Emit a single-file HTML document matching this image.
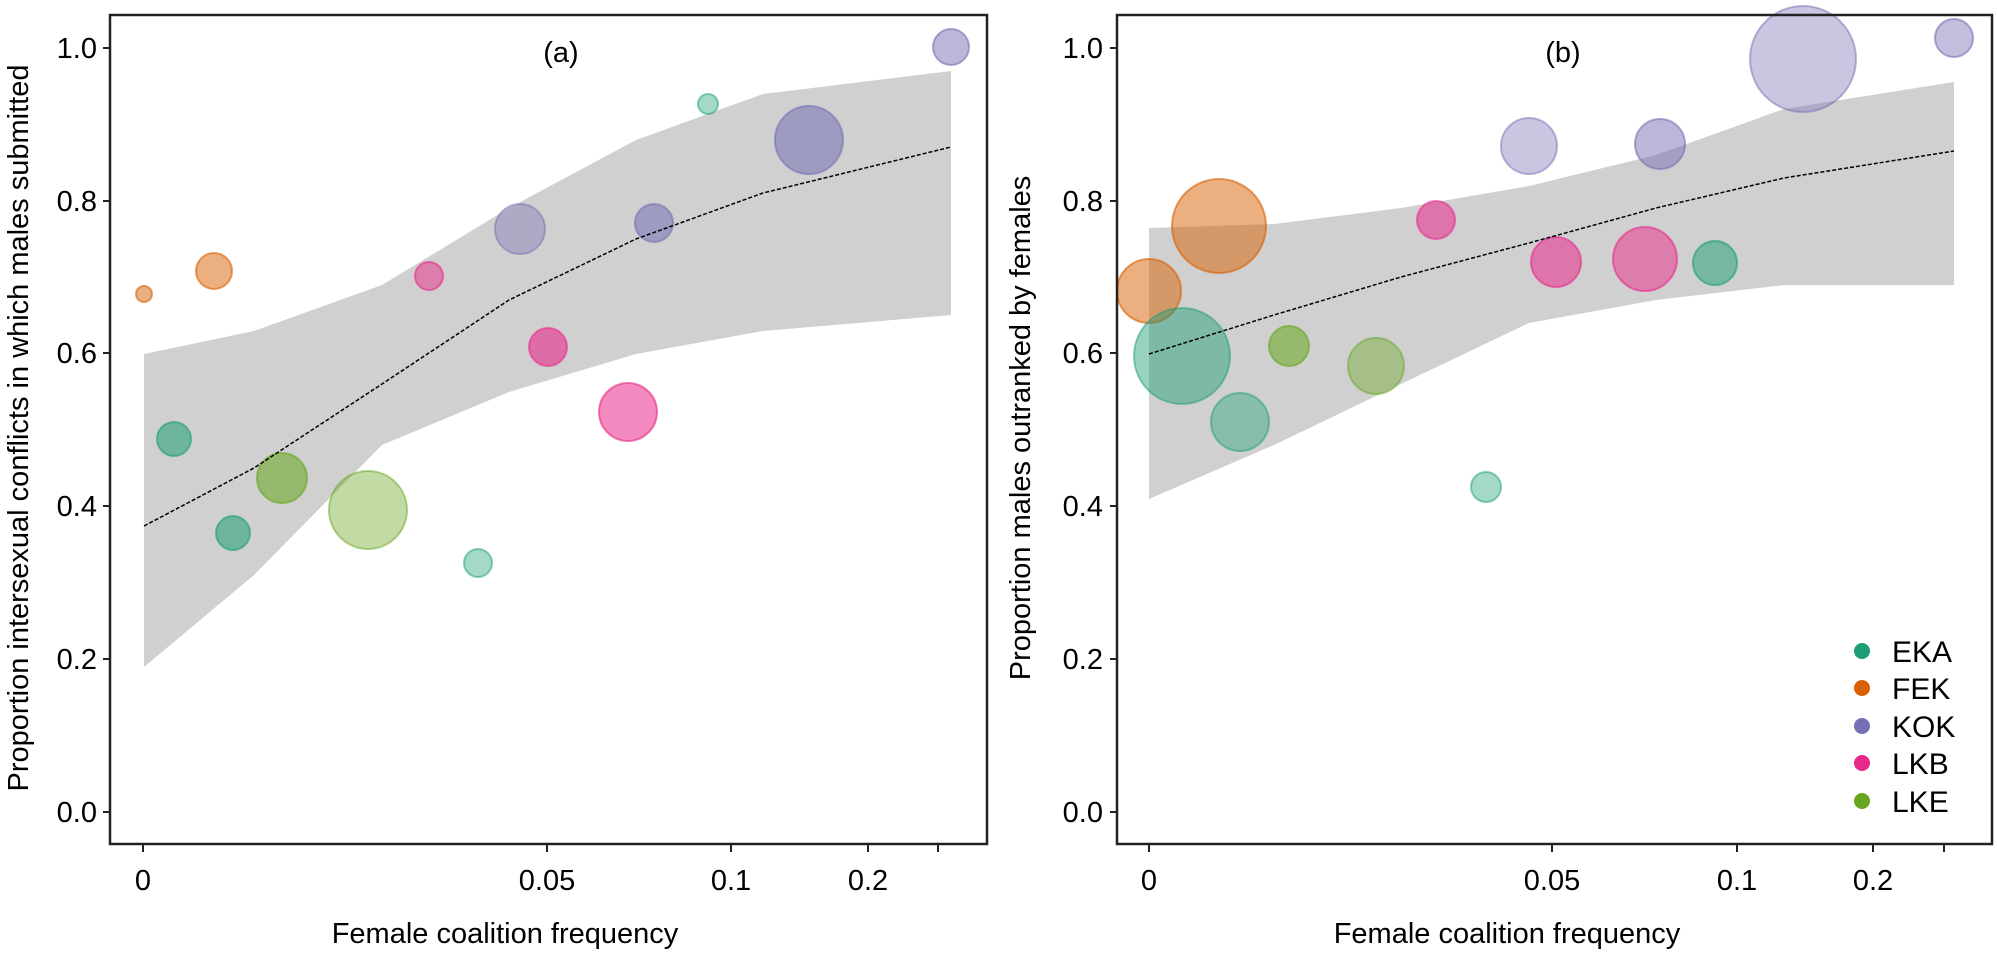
<!DOCTYPE html>
<html><head><meta charset="utf-8"><style>
html,body{margin:0;padding:0;background:#fff}
svg{display:block}
text{font-family:"Liberation Sans",Arial,sans-serif;fill:#000}
</style></head><body>
<svg width="1997" height="953" viewBox="0 0 1997 953" xmlns="http://www.w3.org/2000/svg">
<!-- Panel A -->
<path d="M144,354 L254,331 L382,285 L509,208 L636,140 L763,94 L951,71 L951,315 L763,331 L636,354 L509,392 L382,445 L254,575 L144,667 Z" fill="#d0d0d0"/>
<g stroke-width="2">
<circle cx="144" cy="294" r="8" fill="#d95f02" fill-opacity="0.5" stroke="#d95f02" stroke-opacity="0.6"/>
<circle cx="214" cy="271" r="18" fill="#d95f02" fill-opacity="0.5" stroke="#d95f02" stroke-opacity="0.6"/>
<circle cx="174" cy="439" r="17" fill="#1b9e77" fill-opacity="0.55" stroke="#1b9e77" stroke-opacity="0.6"/>
<circle cx="233" cy="533" r="17" fill="#1b9e77" fill-opacity="0.55" stroke="#1b9e77" stroke-opacity="0.6"/>
<circle cx="282" cy="478" r="25" fill="#66a61e" fill-opacity="0.55" stroke="#66a61e" stroke-opacity="0.6"/>
<circle cx="368" cy="510" r="39" fill="#66a61e" fill-opacity="0.4" stroke="#66a61e" stroke-opacity="0.5"/>
<circle cx="429" cy="276" r="14" fill="#e7298a" fill-opacity="0.5" stroke="#e7298a" stroke-opacity="0.6"/>
<circle cx="520" cy="229" r="25" fill="#7570b3" fill-opacity="0.4" stroke="#7570b3" stroke-opacity="0.5"/>
<circle cx="548" cy="347" r="19" fill="#e7298a" fill-opacity="0.6" stroke="#e7298a" stroke-opacity="0.6"/>
<circle cx="478" cy="563" r="14" fill="#1b9e77" fill-opacity="0.4" stroke="#1b9e77" stroke-opacity="0.5"/>
<circle cx="628" cy="412" r="29" fill="#e7298a" fill-opacity="0.55" stroke="#e7298a" stroke-opacity="0.6"/>
<circle cx="654" cy="223" r="19" fill="#7570b3" fill-opacity="0.55" stroke="#7570b3" stroke-opacity="0.6"/>
<circle cx="708" cy="104" r="10" fill="#1b9e77" fill-opacity="0.4" stroke="#1b9e77" stroke-opacity="0.5"/>
<circle cx="809" cy="140" r="34" fill="#7570b3" fill-opacity="0.55" stroke="#7570b3" stroke-opacity="0.6"/>
<circle cx="951" cy="47" r="18" fill="#7570b3" fill-opacity="0.5" stroke="#7570b3" stroke-opacity="0.6"/>
</g>
<path d="M144,526 L254,468 L382,384 L509,300 L636,239 L763,193 L951,147" fill="none" stroke="#000" stroke-width="1.5" stroke-dasharray="4,2"/>
<rect x="110" y="15" width="877" height="829" fill="none" stroke="#222" stroke-width="2.5"/>
<g stroke="#222" stroke-width="2">
<line x1="103" y1="48" x2="110" y2="48"/><line x1="103" y1="201" x2="110" y2="201"/><line x1="103" y1="353" x2="110" y2="353"/><line x1="103" y1="506" x2="110" y2="506"/><line x1="103" y1="659" x2="110" y2="659"/><line x1="103" y1="812" x2="110" y2="812"/>
<line x1="143" y1="844" x2="143" y2="852"/><line x1="547" y1="844" x2="547" y2="852"/><line x1="731" y1="844" x2="731" y2="852"/><line x1="868" y1="844" x2="868" y2="852"/><line x1="938" y1="844" x2="938" y2="852"/>
</g>
<g font-size="29" text-anchor="end">
<text x="97" y="58">1.0</text><text x="97" y="211">0.8</text><text x="97" y="363">0.6</text><text x="97" y="516">0.4</text><text x="97" y="669">0.2</text><text x="97" y="822">0.0</text>
</g>
<g font-size="29" text-anchor="middle">
<text x="143" y="890">0</text><text x="547" y="890">0.05</text><text x="731" y="890">0.1</text><text x="868" y="890">0.2</text>
<text x="561" y="62">(a)</text>
<text x="505" y="943">Female coalition frequency</text>
<text transform="translate(28,428) rotate(-90)">Proportion intersexual conflicts in which males submitted</text>
</g>

<!-- Panel B -->
<path d="M1149,228 L1274,224 L1401,208 L1529,186 L1656,155 L1784,109 L1954,82 L1954,285 L1784,285 L1656,300 L1529,323 L1401,384 L1274,445 L1149,499 Z" fill="#d0d0d0"/>
<g stroke-width="2">
<circle cx="1149" cy="291" r="32" fill="#d95f02" fill-opacity="0.5" stroke="#d95f02" stroke-opacity="0.6"/>
<circle cx="1219" cy="226" r="47" fill="#d95f02" fill-opacity="0.5" stroke="#d95f02" stroke-opacity="0.6"/>
<circle cx="1182" cy="356" r="48" fill="#1b9e77" fill-opacity="0.45" stroke="#1b9e77" stroke-opacity="0.5"/>
<circle cx="1240" cy="422" r="29" fill="#1b9e77" fill-opacity="0.4" stroke="#1b9e77" stroke-opacity="0.5"/>
<circle cx="1289" cy="346" r="20" fill="#66a61e" fill-opacity="0.55" stroke="#66a61e" stroke-opacity="0.6"/>
<circle cx="1376" cy="366" r="28" fill="#66a61e" fill-opacity="0.4" stroke="#66a61e" stroke-opacity="0.5"/>
<circle cx="1486" cy="487" r="15" fill="#1b9e77" fill-opacity="0.4" stroke="#1b9e77" stroke-opacity="0.5"/>
<circle cx="1436" cy="220" r="19" fill="#e7298a" fill-opacity="0.55" stroke="#e7298a" stroke-opacity="0.6"/>
<circle cx="1556" cy="262" r="25" fill="#e7298a" fill-opacity="0.55" stroke="#e7298a" stroke-opacity="0.6"/>
<circle cx="1529" cy="146" r="28" fill="#7570b3" fill-opacity="0.4" stroke="#7570b3" stroke-opacity="0.5"/>
<circle cx="1645" cy="259" r="32" fill="#e7298a" fill-opacity="0.5" stroke="#e7298a" stroke-opacity="0.6"/>
<circle cx="1660" cy="144" r="25" fill="#7570b3" fill-opacity="0.5" stroke="#7570b3" stroke-opacity="0.6"/>
<circle cx="1715" cy="263" r="22" fill="#1b9e77" fill-opacity="0.5" stroke="#1b9e77" stroke-opacity="0.6"/>
<circle cx="1803" cy="59" r="53" fill="#7570b3" fill-opacity="0.4" stroke="#7570b3" stroke-opacity="0.5"/>
<circle cx="1954" cy="38" r="19" fill="#7570b3" fill-opacity="0.45" stroke="#7570b3" stroke-opacity="0.6"/>
</g>
<path d="M1149,354 L1274,315 L1401,277 L1529,243 L1656,208 L1784,178 L1954,151" fill="none" stroke="#000" stroke-width="1.5" stroke-dasharray="4,2"/>
<rect x="1117" y="15" width="875" height="829" fill="none" stroke="#222" stroke-width="2.5"/>
<g stroke="#222" stroke-width="2">
<line x1="1110" y1="48" x2="1117" y2="48"/><line x1="1110" y1="201" x2="1117" y2="201"/><line x1="1110" y1="353" x2="1117" y2="353"/><line x1="1110" y1="506" x2="1117" y2="506"/><line x1="1110" y1="659" x2="1117" y2="659"/><line x1="1110" y1="812" x2="1117" y2="812"/>
<line x1="1149" y1="844" x2="1149" y2="852"/><line x1="1552" y1="844" x2="1552" y2="852"/><line x1="1737" y1="844" x2="1737" y2="852"/><line x1="1873" y1="844" x2="1873" y2="852"/><line x1="1944" y1="844" x2="1944" y2="852"/>
</g>
<g font-size="29" text-anchor="end">
<text x="1103" y="58">1.0</text><text x="1103" y="211">0.8</text><text x="1103" y="363">0.6</text><text x="1103" y="516">0.4</text><text x="1103" y="669">0.2</text><text x="1103" y="822">0.0</text>
</g>
<g font-size="29" text-anchor="middle">
<text x="1149" y="890">0</text><text x="1552" y="890">0.05</text><text x="1737" y="890">0.1</text><text x="1873" y="890">0.2</text>
<text x="1563" y="62">(b)</text>
<text x="1507" y="943">Female coalition frequency</text>
<text transform="translate(1030,428) rotate(-90)">Proportion males outranked by females</text>
</g>
<!-- Legend -->
<g>
<circle cx="1862" cy="651" r="8" fill="#1b9e77"/>
<circle cx="1862" cy="688" r="8" fill="#d95f02"/>
<circle cx="1862" cy="726" r="8" fill="#7570b3"/>
<circle cx="1862" cy="763" r="8" fill="#e7298a"/>
<circle cx="1862" cy="801" r="8" fill="#66a61e"/>
</g>
<g font-size="30">
<text x="1892" y="662">EKA</text>
<text x="1892" y="699">FEK</text>
<text x="1892" y="737">KOK</text>
<text x="1892" y="774">LKB</text>
<text x="1892" y="812">LKE</text>
</g>
</svg>
</body></html>
